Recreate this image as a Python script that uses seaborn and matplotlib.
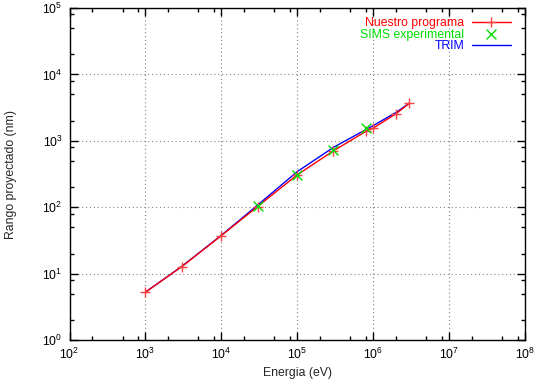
import numpy as np
import pandas as pd
import matplotlib
matplotlib.use("Agg")
import matplotlib.pyplot as plt
import seaborn as sns
from matplotlib.ticker import LogLocator, LogFormatterSciNotation, NullFormatter

# ---- data ----
energy_prog = [1e3, 3e3, 1e4, 3e4, 1e5, 3e5, 8e5, 1e6, 2e6, 3e6]
range_prog = [5.3, 12.8, 37.6, 103, 309, 709, 1390, 1560, 2560, 3700]

energy_sims = [3e4, 1e5, 3e5, 8e5]
range_sims = [105, 310, 720, 1580]

energy_trim = [1e3, 3e3, 1e4, 3e4, 1e5, 3e5, 1e6, 2e6, 3e6]
range_trim = [5.3, 12.9, 38, 108, 345, 800, 1700, 2680, 3700]

labels = ["Nuestro programa", "SIMS experimental", "TRIM"]
colors = ["#ff0000", "#00dd00", "#0000ff"]

df_prog = pd.DataFrame({"E": energy_prog, "R": range_prog})
df_sims = pd.DataFrame({"E": energy_sims, "R": range_sims})
df_trim = pd.DataFrame({"E": energy_trim, "R": range_trim})

sns.set_style("ticks")
plt.rcParams["font.family"] = ["Liberation Sans", "DejaVu Sans"]
plt.rcParams["mathtext.default"] = "regular"
FS = 8.8

fig = plt.figure(figsize=(5.35, 3.79), dpi=100)
ax = fig.add_axes([69.5 / 535, 1 - 340.3 / 379, (525 - 69.5) / 535, (340.3 - 8) / 379])

sns.lineplot(data=df_prog, x="E", y="R", ax=ax, color=colors[0], lw=1.0,
             marker="+", markersize=7.5, markeredgewidth=1.0, label=labels[0],
             markeredgecolor="#ff4040", zorder=4)
sns.scatterplot(data=df_sims, x="E", y="R", ax=ax, color=colors[1], marker="x",
                s=50, linewidth=1.0, label=labels[1], zorder=5)
sns.lineplot(data=df_trim, x="E", y="R", ax=ax, color=colors[2], lw=1.0,
             label=labels[2], zorder=3)

ax.set_xscale("log")
ax.set_yscale("log")
ax.set_xlim(1e2, 1e8)
ax.set_ylim(1e0, 1e5)

ax.xaxis.set_major_locator(LogLocator(base=10, numticks=20))
ax.yaxis.set_major_locator(LogLocator(base=10, numticks=20))
ax.xaxis.set_minor_locator(LogLocator(base=10, subs=[2, 5, 8], numticks=20))
ax.yaxis.set_minor_locator(LogLocator(base=10, subs=[2, 5, 8], numticks=20))
ax.xaxis.set_major_formatter(LogFormatterSciNotation())
ax.yaxis.set_major_formatter(LogFormatterSciNotation())
ax.xaxis.set_minor_formatter(NullFormatter())
ax.yaxis.set_minor_formatter(NullFormatter())

ax.tick_params(which="both", direction="in", top=True, right=True,
               labelsize=FS, colors="black", width=1.0)
ax.tick_params(which="major", length=6, pad=5)
ax.tick_params(which="minor", length=3)

for s in ax.spines.values():
    s.set_visible(True)
    s.set_color("black")
    s.set_linewidth(1.0)

ax.grid(True, which="major", color="#808080", lw=0.8, linestyle=(0, (1, 2.5)))
ax.set_axisbelow(True)

ax.set_xlabel("Energia (eV)", fontsize=FS, labelpad=3)
ax.set_ylabel("Rango proyectado (nm)", fontsize=FS, labelpad=18)

leg = ax.legend(loc="upper right", bbox_to_anchor=(0.9693, 0.972), frameon=False,
                markerfirst=False, fontsize=FS, handlelength=3.2,
                handletextpad=0.6, labelspacing=-0.05, borderaxespad=0,
                borderpad=0, labelcolor="linecolor")
for t, c in zip(leg.get_texts(), colors):
    t.set_color(c)

fig.savefig("out.png", dpi=100)
